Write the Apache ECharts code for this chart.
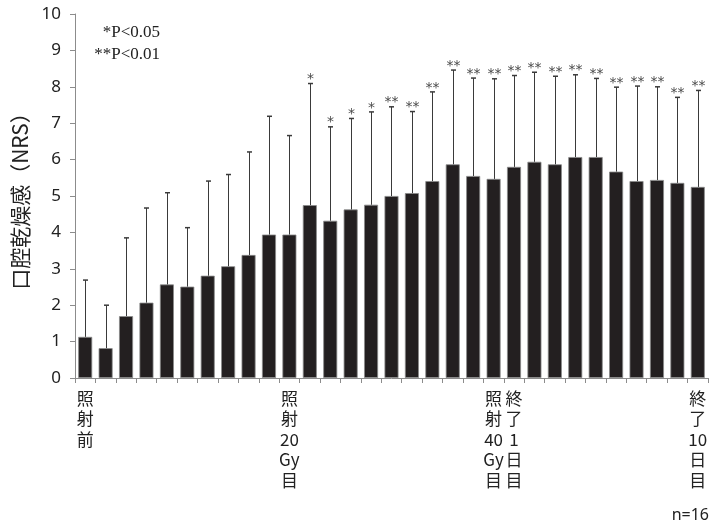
<!DOCTYPE html>
<html><head><meta charset="utf-8">
<script src="https://cdn.jsdelivr.net/npm/echarts@6/dist/echarts.min.js"></script>
<style>html,body{margin:0;padding:0;background:#fff}#c{width:712px;height:529px}</style>
</head><body><div id="c"></div>
<script>
var categories = ['1','2','3','4','5','6','7','8','9','10','11','12','13','14','15','16','17','18','19','20','21','22','23','24','25','26','27','28','29','30','31'];
var tickLabels = ['照\n射\n前','','','','','','','','','','照\n射\n20\nGy\n目','','','','','','','','','','照\n射\n40\nGy\n目','終\n了\n1\n日\n目','','','','','','','','','終\n了\n10\n日\n目'];
var means = [1.13,0.82,1.70,2.07,2.57,2.51,2.81,3.07,3.38,3.94,3.94,4.75,4.32,4.63,4.76,5.00,5.08,5.41,5.87,5.55,5.47,5.80,5.94,5.87,6.07,6.07,5.67,5.41,5.44,5.36,5.25];
var upper = [2.69,2.00,3.85,4.67,5.09,4.13,5.41,5.59,6.21,7.19,6.66,8.09,6.90,7.13,7.31,7.45,7.32,7.86,8.46,8.24,8.22,8.31,8.40,8.29,8.33,8.23,7.99,8.02,8.00,7.71,7.90];
var marks = ['','','','','','','','','','','','*','*','*','*','**','**','**','**','**','**','**','**','**','**','**','**','**','**','**','**'];
var yTicks = [0,1,2,3,4,5,6,7,8,9,10];

var chart = echarts.init(document.getElementById('c'));
var errData = categories.map(function(c,i){return [i, means[i], upper[i]];});
chart.setOption({
  animation:false,
  grid:{left:75,right:4,top:14,bottom:151},
  xAxis:{type:'category',data:categories,boundaryGap:true,
    axisLine:{lineStyle:{color:'#8c8c8c',width:1}},
    axisTick:{show:true,interval:0,length:5,inside:false,lineStyle:{color:'#8c8c8c'}},
    axisLabel:{interval:0,margin:10,fontFamily:'Noto Sans CJK JP',fontSize:17,lineHeight:20.5,color:'#222',align:'center',
      formatter:function(v,i){return tickLabels[i];}}},
  yAxis:{type:'value',min:yTicks[0],max:yTicks[yTicks.length-1],interval:1,
    name:'口腔乾燥感（NRS）',nameLocation:'middle',nameGap:44,nameRotate:90,
    nameTextStyle:{fontFamily:'Noto Sans CJK JP',fontSize:21,color:'#222'},
    splitLine:{show:false},
    axisLine:{show:true,lineStyle:{color:'#8c8c8c'}},
    axisTick:{show:true,length:5,lineStyle:{color:'#8c8c8c'}},
    axisLabel:{fontFamily:'Noto Sans',fontSize:17,color:'#222',margin:14}},
  series:[
    {type:'bar',data:means,barWidth:14,itemStyle:{color:'#231f20',borderColor:'#8a8a8a',borderWidth:0.8},z:2},
    {type:'custom',data:errData,z:3,
      renderItem:function(params,api){
        var i=api.value(0);
        var p0=api.coord([i,api.value(1)]);
        var p1=api.coord([i,api.value(2)]);
        var x=Math.round(p0[0])+0.5;
        var ch=[
          {type:'line',shape:{x1:x,y1:p0[1],x2:x,y2:p1[1]},style:{stroke:'#3a3a3a',lineWidth:1}},
          {type:'line',shape:{x1:x-2.5,y1:p1[1],x2:x+2.5,y2:p1[1]},style:{stroke:'#3a3a3a',lineWidth:1.5}}
        ];
        var m=marks[params.dataIndex];
        if(m){
          ch.push({type:'text',style:{text:m,x:x,y:p1[1]+3,align:'center',verticalAlign:'bottom',
            fontFamily:'DejaVu Sans',fontSize:14,fill:'#4a4a4a'}});
        }
        return {type:'group',children:ch};
      }}
  ],
  graphic:[
    {type:'text',right:552,top:24,style:{text:'*P<0.05',fontFamily:'Liberation Serif',fontSize:17,fill:'#222',align:'right'}},
    {type:'text',right:552,top:46,style:{text:'**P<0.01',fontFamily:'Liberation Serif',fontSize:17,fill:'#222',align:'right'}},
    {type:'text',right:3,bottom:6,style:{text:'n=16',fontFamily:'Noto Sans',fontSize:16,fill:'#222'}}
  ]
});
</script></body></html>
